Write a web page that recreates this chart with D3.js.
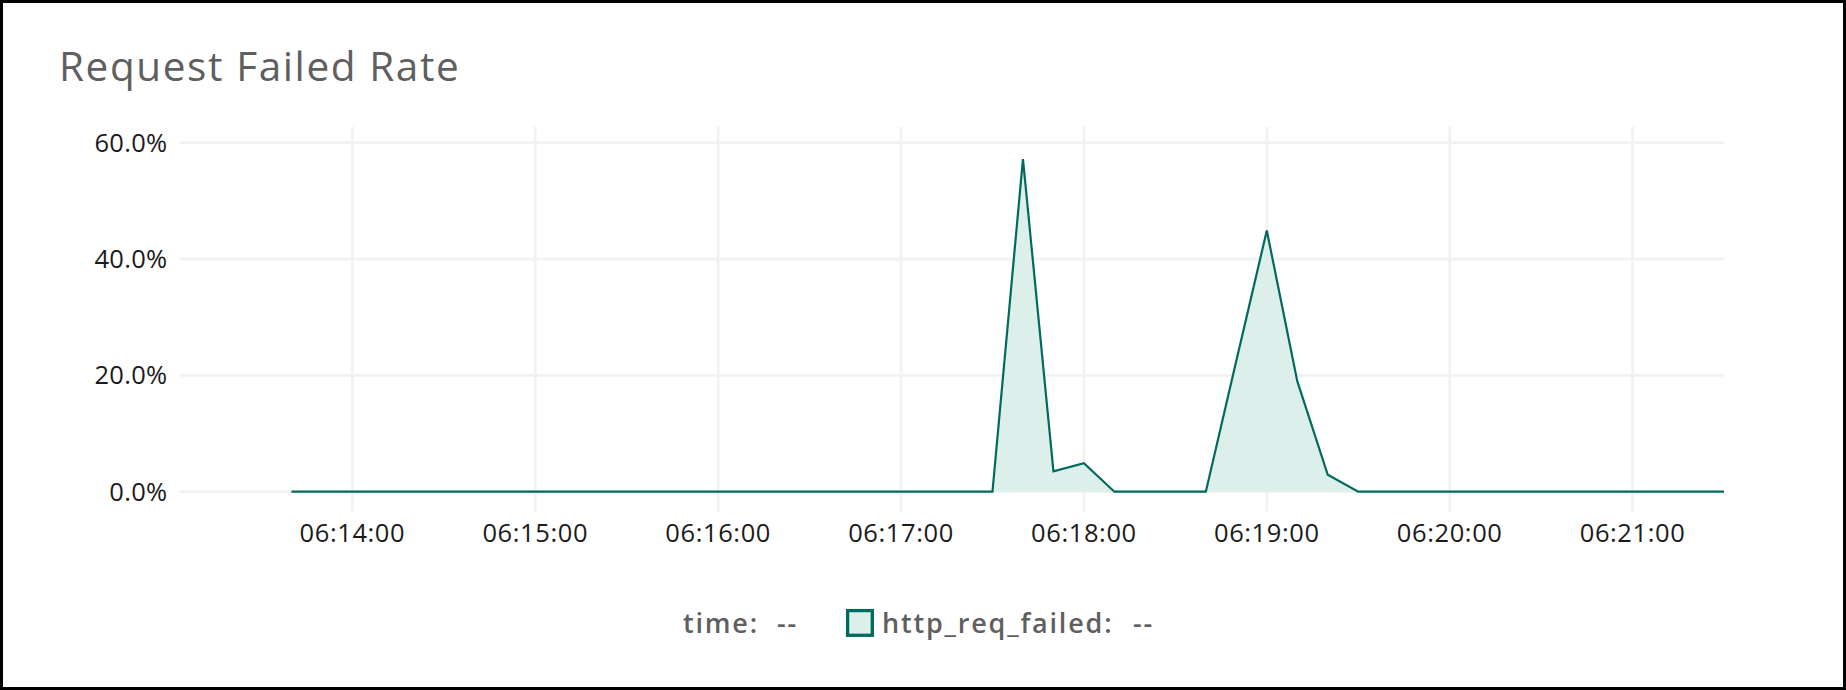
<!DOCTYPE html>
<html>
<head>
<meta charset="utf-8">
<script src="https://cdn.jsdelivr.net/npm/d3@7"></script>
<style>
  body { margin: 0; background: #fff; }
  svg { display: block; font-family: "Open Sans", "Noto Sans", sans-serif; }
</style>
</head>
<body>
<div id="plot"></div>
<script>
// sample times (every 10s) and failed rate in %
var times = ["06:13:40", "06:13:50", "06:14:00", "06:14:10", "06:14:20", "06:14:30", "06:14:40", "06:14:50",
             "06:15:00", "06:15:10", "06:15:20", "06:15:30", "06:15:40", "06:15:50",
             "06:16:00", "06:16:10", "06:16:20", "06:16:30", "06:16:40", "06:16:50",
             "06:17:00", "06:17:10", "06:17:20", "06:17:30", "06:17:40", "06:17:50",
             "06:18:00", "06:18:10", "06:18:20", "06:18:30", "06:18:40", "06:18:50",
             "06:19:00", "06:19:10", "06:19:20", "06:19:30", "06:19:40", "06:19:50",
             "06:20:00", "06:20:10", "06:20:20", "06:20:30", "06:20:40", "06:20:50",
             "06:21:00", "06:21:10", "06:21:20", "06:21:30"];

var failedRate = [0, 0, 0, 0, 0, 0, 0, 0,
                  0, 0, 0, 0, 0, 0,
                  0, 0, 0, 0, 0, 0,
                  0, 0, 0, 0, 57.2, 3.5,
                  4.9, 0, 0, 0, 0, 22.5,
                  44.9, 19.0, 2.9, 0, 0, 0,
                  0, 0, 0, 0, 0, 0,
                  0, 0, 0, 0];

var xTicks = ["06:14:00", "06:15:00", "06:16:00", "06:17:00", "06:18:00", "06:19:00", "06:20:00", "06:21:00"];
var yTicks = [0, 20, 40, 60];

var xStart = "06:13:10";
var xEnd = "06:21:30";
var yMax = 62.75;

var parseTime = d3.timeParse("%H:%M:%S");

var data = times.map(function(t, i) {
    return { time: parseTime(t), value: failedRate[i] };
});

var width = 1846, height = 690;
var plot = { left: 200, right: 1724, top: 126.7, bottom: 491.7 };
var tickLen = 20;

var svg = d3.select("#plot")
  .append("svg")
  .attr("width", width)
  .attr("height", height);

// outer frame
svg.append("rect")
  .attr("x", 1.5)
  .attr("y", 1.5)
  .attr("width", width - 3)
  .attr("height", height - 3)
  .style("fill", "#fff")
  .style("stroke", "#000")
  .style("stroke-width", 3);

svg.append("text")
  .attr("x", 59)
  .attr("y", 80.7)
  .text("Request Failed Rate")
  .style("font-size", "40.5px")
  .style("letter-spacing", "1.6px")
  .style("fill", "#5f5f5f");

var x = d3.scaleTime()
  .domain([parseTime(xStart), parseTime(xEnd)])
  .range([plot.left, plot.right]);

var y = d3.scaleLinear()
  .domain([0, yMax])
  .range([plot.bottom, plot.top]);

// grid
svg.append("g")
  .selectAll("line")
  .data(yTicks)
  .join("line")
    .attr("x1", plot.left - tickLen)
    .attr("x2", plot.right)
    .attr("y1", d => y(d))
    .attr("y2", d => y(d))
    .style("stroke", "#f2f2f2")
    .style("stroke-width", 2.7);

svg.append("g")
  .selectAll("line")
  .data(xTicks)
  .join("line")
    .attr("x1", d => x(parseTime(d)))
    .attr("x2", d => x(parseTime(d)))
    .attr("y1", plot.top)
    .attr("y2", plot.bottom + tickLen)
    .style("stroke", "#f2f2f2")
    .style("stroke-width", 2.7);

// tick labels
svg.append("g")
  .selectAll("text")
  .data(yTicks)
  .join("text")
    .attr("x", plot.left - tickLen - 12.5)
    .attr("y", d => y(d) + 9)
    .attr("text-anchor", "end")
    .text(d => d.toFixed(1) + "%")
    .style("font-size", "25.5px")
    .style("letter-spacing", "0.3px")
    .style("fill", "#1a1a1a");

svg.append("g")
  .selectAll("text")
  .data(xTicks)
  .join("text")
    .attr("x", d => x(parseTime(d)))
    .attr("y", 541.7)
    .attr("text-anchor", "middle")
    .text(d => d)
    .style("font-size", "25.5px")
    .style("letter-spacing", "0.6px")
    .style("fill", "#1a1a1a");

// series
var area = d3.area()
  .x(d => x(d.time))
  .y0(y(0))
  .y1(d => y(d.value));

var line = d3.line()
  .x(d => x(d.time))
  .y(d => y(d.value));

svg.append("path")
  .datum(data)
  .attr("d", area)
  .style("fill", "#dcefeb");

svg.append("path")
  .datum(data)
  .attr("d", line)
  .style("fill", "none")
  .style("stroke", "#006b5c")
  .style("stroke-width", 2.2);

// legend
var legend = svg.append("g")
  .style("font-size", "27px")
  .style("font-weight", 600)
  .style("letter-spacing", "1.8px")
  .style("fill", "#5f5f5f");

legend.append("text").attr("x", 683).attr("y", 632.7).text("time:");
legend.append("text").attr("x", 777).attr("y", 632.7).text("--");

legend.append("rect")
  .attr("x", 847.6)
  .attr("y", 610.6)
  .attr("width", 24.7)
  .attr("height", 24.7)
  .style("fill", "#dcefeb")
  .style("stroke", "#006b5c")
  .style("stroke-width", 3.3);

legend.append("text").attr("x", 882).attr("y", 632.7).text("http_req_failed:");
legend.append("text").attr("x", 1133).attr("y", 632.7).text("--");
</script>
</body>
</html>
